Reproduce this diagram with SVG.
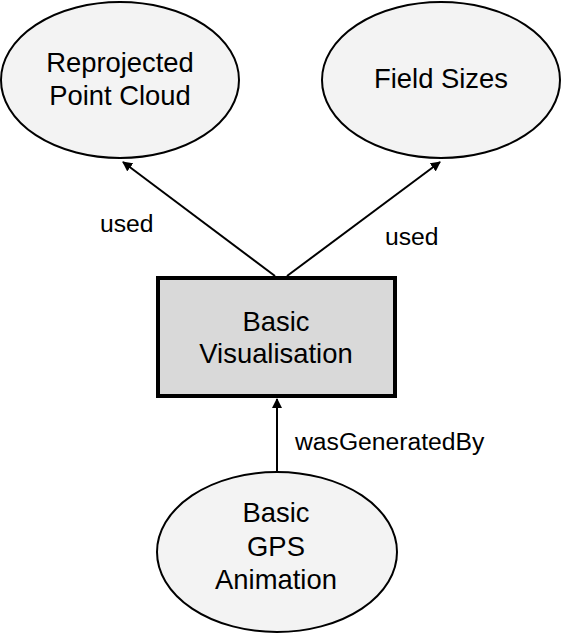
<svg xmlns="http://www.w3.org/2000/svg" width="562" height="633" viewBox="0 0 562 633">
<defs>
<style>
.ell{fill:#f3f3f3;stroke:#000;stroke-width:2}
.box{fill:#d9d9d9;stroke:#000;stroke-width:4}
.t{font-family:"Liberation Sans",Arial,sans-serif;font-size:27.4px;fill:#000;text-anchor:middle}
.l{font-family:"Liberation Sans",Arial,sans-serif;font-size:24.7px;fill:#000}
.c{stroke:#000;stroke-width:2;fill:none;marker-end:url(#ah)}
</style>
<marker id="ah" viewBox="0 0 10 10" refX="9" refY="5" markerWidth="5" markerHeight="5" orient="auto" markerUnits="strokeWidth">
<path d="M0,0 L10,5 L0,10 z" fill="#000"/>
</marker>
</defs>
<rect width="562" height="633" fill="#fff"/>
<g id="connectors">
<line class="c" x1="275" y1="276" x2="123" y2="162"/>
<line class="c" x1="287" y1="276" x2="440" y2="162"/>
<line class="c" x1="277" y1="472" x2="277" y2="399"/>
<text class="l" x="100" y="232">used</text>
<text class="l" x="385" y="245">used</text>
<text class="l" x="295" y="450">wasGeneratedBy</text>
</g>
<g id="reprojected">
<ellipse class="ell" cx="120" cy="80" rx="119" ry="78"/>
<text class="t" x="120" y="72">Reprojected</text>
<text class="t" x="120" y="105">Point Cloud</text>
</g>
<g id="fieldsizes">
<ellipse class="ell" cx="441" cy="80" rx="119" ry="78"/>
<text class="t" x="441" y="88">Field Sizes</text>
</g>
<g id="visualisation">
<rect class="box" x="158" y="278" width="237" height="118"/>
<text class="t" x="276" y="331">Basic</text>
<text class="t" x="276" y="363">Visualisation</text>
</g>
<g id="gpsanimation">
<ellipse class="ell" cx="277" cy="552" rx="120" ry="80"/>
<text class="t" x="276" y="522">Basic</text>
<text class="t" x="276" y="556">GPS</text>
<text class="t" x="276" y="589">Animation</text>
</g>
</svg>
